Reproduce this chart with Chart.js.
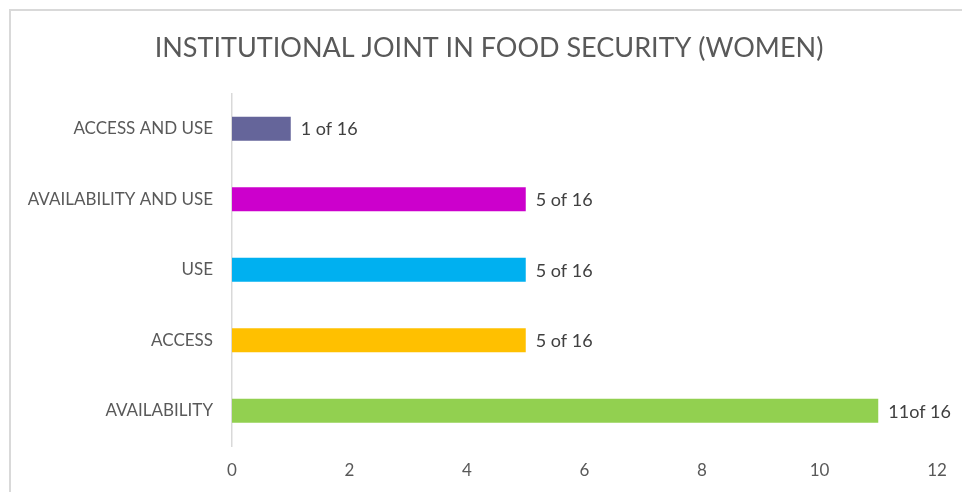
<!DOCTYPE html>
<html>
<head>
<meta charset="utf-8">
<script src="https://cdn.jsdelivr.net/npm/chart.js@4"></script>
<style>
  html, body { margin: 0; padding: 0; background: #fff; overflow: hidden; }
  #frame {
    position: absolute; left: 9px; top: 9px; width: 980px; height: 520px;
    border: 2px solid #d9d9d9; box-sizing: border-box;
  }
  #wrap { position: absolute; left: 0; top: 0; width: 962px; height: 492px; }
</style>
</head>
<body>
<div id="frame"></div>
<div id="wrap"><canvas id="chart"></canvas></div>
<script>
// categories top to bottom
const categories = ['ACCESS AND USE', 'AVAILABILITY AND USE', 'USE', 'ACCESS', 'AVAILABILITY']
const counts = [1, 5, 5, 5, 11]
const countLabels = ['1 of 16', '5 of 16', '5 of 16', '5 of 16', '11of 16']
const barColors = ['#65659a', '#cc00cc', '#00b0f0', '#ffc000', '#92d050']
const xTicks = [0, 2, 4, 6, 8, 10, 12]

const font = 'Lato, "Open Sans", sans-serif'

// writes "n of 16" just right of each bar
const barText = {
  id: 'barText',
  afterLayout(chart) {
    // nudge the title box so the title sits centred like the reference
    if (chart.titleBlock) chart.titleBlock.left += 41
  },
  afterDatasetsDraw(chart) {
    const ctx = chart.ctx
    const meta = chart.getDatasetMeta(0)
    ctx.save()
    ctx.font = '18px ' + font
    ctx.fillStyle = '#404040'
    ctx.textBaseline = 'middle'
    ctx.textAlign = 'left'
    meta.data.forEach((bar, i) => {
      ctx.fillText(countLabels[i], bar.x + 10, bar.y + 1)
    })
    ctx.restore()
  }
}

new Chart(document.getElementById('chart'), {
  type: 'bar',
  data: {
    labels: categories,
    datasets: [{
      data: counts,
      backgroundColor: barColors,
      barPercentage: 1,
      categoryPercentage: 0.34
    }]
  },
  options: {
    indexAxis: 'y',
    responsive: true,
    maintainAspectRatio: false,
    animation: false,
    layout: { padding: { left: 0, right: 25, top: 0, bottom: 0 } },
    plugins: {
      legend: { display: false },
      tooltip: { enabled: false },
      title: {
        display: true,
        text: 'INSTITUTIONAL JOINT IN FOOD SECURITY (WOMEN)',
        color: '#595959',
        font: { family: font, size: 27, weight: '400' },
        padding: { top: 32, bottom: 29 }
      }
    },
    scales: {
      x: {
        min: 0,
        max: 12,
        afterBuildTicks: (scale) => { scale.ticks = xTicks.map(v => ({ value: v })) },
        afterFit: (scale) => { scale.height = 46 },
        grid: { display: false, drawTicks: false },
        border: { display: false },
        ticks: {
          color: '#595959',
          padding: 14,
          font: { family: font, size: 17 }
        }
      },
      y: {
        afterFit: (scale) => { scale.width = 232 },
        grid: { display: false, drawTicks: false },
        border: { display: true, color: '#d9d9d9', width: 1.5 },
        ticks: {
          color: '#595959',
          padding: 19,
          font: { family: font, size: 17 }
        }
      }
    }
  },
  plugins: [barText]
})
</script>
</body>
</html>
